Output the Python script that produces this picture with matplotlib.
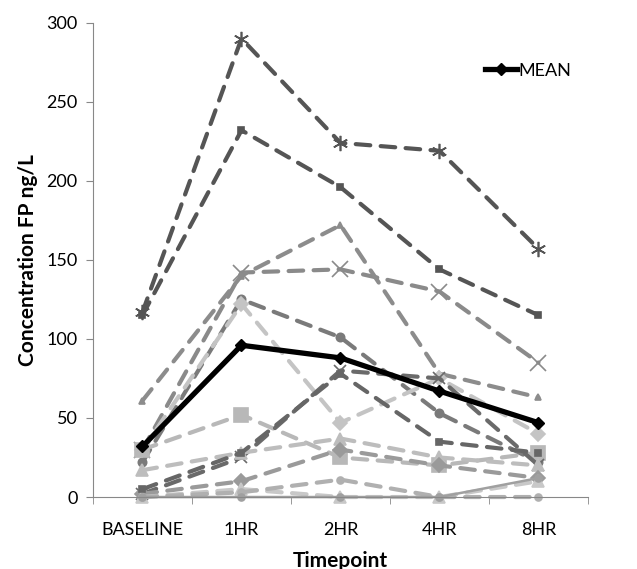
import matplotlib
matplotlib.use("Agg")
import matplotlib.pyplot as plt
import numpy as np

timepoints = ["BASELINE", "1HR", "2HR", "4HR", "8HR"]

# individual subjects
s01 = [117, 290, 224, 219, 157]
s02 = [115, 232, 196, 144, 115]
s03 = [30, 142, 144, 130, 85]
s04 = [61, 140, 172, 78, 63]
s05 = [22, 125, 101, 53, 22]
s06 = [30, 122, 47, 75, 40]
s07 = [30, 52, 25, 20, 28]
s08 = [2, 25, 80, 75, 20]
s09 = [17, 28, 37, 25, 20]
s10 = [2, 10, 30, 20, 12]
s11 = [0, 5, 0, 0, 10]
s12 = [5, 28, 78, 35, 28]
s13 = [0, 3, 11, 0, 0]
s14 = [0, 0, 0, 0, 12]
mean = [32, 96, 88, 67, 47]

subjects = [s01, s02, s03, s04, s05, s06, s07, s08, s09, s10, s11, s12, s13, s14]
colors = ["#555555", "#555555", "#8a8a8a", "#8c8c8c", "#7a7a7a", "#c4c4c4",
          "#b8b8b8", "#6a6a6a", "#bdbdbd", "#9a9a9a", "#c8c8c8", "#666666",
          "#b0b0b0", "#a0a0a0"]
markers = [(6, 2, 0), "s", "x", "^", "o", "D", "s", "x", "^", "D", "^", "s", "o", "o"]
msizes = [11, 5, 12, 5, 6, 7, 10, 9, 9, 7, 9, 5, 5, 5]
styles = ["--"] * 13 + ["-"]

plt.rcParams["font.family"] = ["Lato", "DejaVu Sans"]

fig = plt.figure(figsize=(6.37, 5.69), dpi=100)
ax = fig.add_axes([0.146, 0.1265, 0.777, 0.8335])

x = np.arange(len(timepoints))
for vals, c, m, ms, ls in zip(subjects, colors, markers, msizes, styles):
    ax.plot(x, vals, linestyle=ls, color=c, lw=3 if ls == "--" else 1.8,
            marker=m, markersize=ms, markeredgewidth=1.2,
            dashes=(3.5, 2.5) if ls == "--" else (None, None),
            dash_capstyle="round", zorder=2, clip_on=False)

ax.plot(x, mean, color="black", lw=3.8, marker="D", markersize=6,
        label="MEAN", zorder=5)

ax.set_xlim(-0.5, 4.5)
ax.set_ylim(0, 300)
ax.set_yticks(range(0, 301, 50))
ax.set_xticks(x)
ax.set_xticklabels(timepoints)
ax.set_xticks(np.arange(-0.5, 5, 1), minor=True)
ax.tick_params(axis="x", which="major", length=0, pad=18, labelsize=13)
ax.tick_params(axis="x", which="minor", length=5, color="#888888", direction="out")
ax.tick_params(axis="y", length=5, color="#888888", labelsize=13, pad=6)

for side in ["top", "right"]:
    ax.spines[side].set_visible(False)
ax.spines["left"].set_color("#888888")
ax.spines["bottom"].set_color("#888888")

ax.set_xlabel("Timepoint", fontsize=15, fontweight="bold", labelpad=9)
ax.set_ylabel("Concentration FP ng/L", fontsize=15, fontweight="bold", labelpad=6)

leg = ax.legend(loc="upper right", bbox_to_anchor=(1.0, 0.95), frameon=False,
                fontsize=13, handlelength=1.8, handletextpad=0.1)

fig.savefig("out.png", dpi=100)
